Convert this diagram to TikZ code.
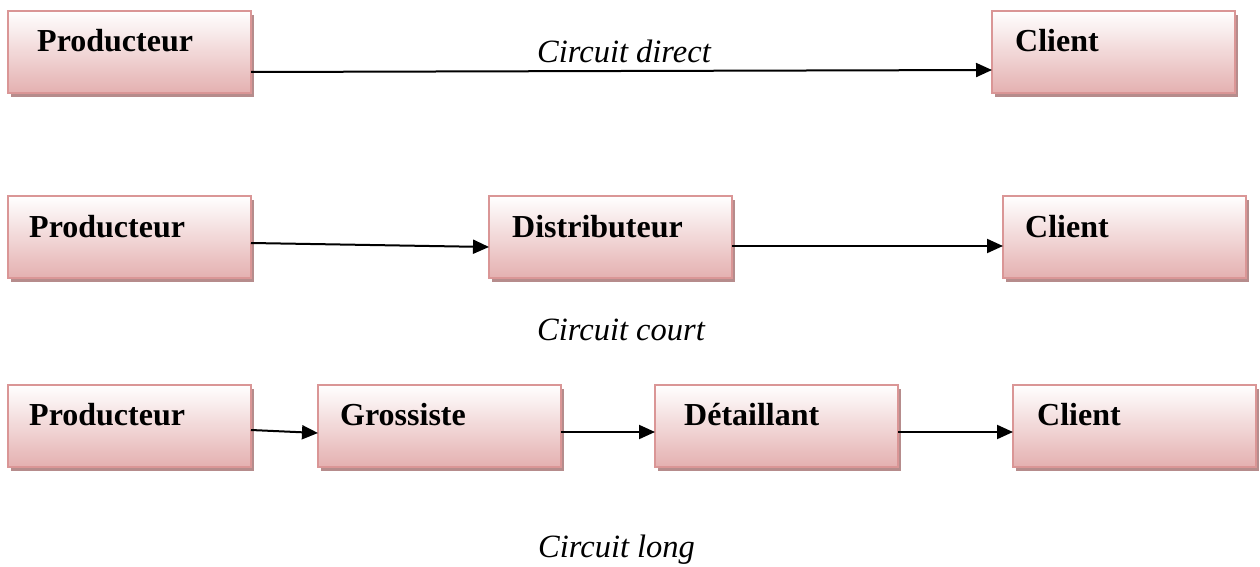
\documentclass[tikz,border=0pt]{standalone}
\usepackage{fontspec}
\setmainfont{Liberation Serif}
\usetikzlibrary{arrows.meta,shadows}

\definecolor{boxtop}{RGB}{255,255,255}
\definecolor{boxbottom}{RGB}{228,176,176}
\definecolor{boxline}{RGB}{218,150,150}
\definecolor{boxshadow}{RGB}{182,140,140}

\tikzset{
  box/.style={rectangle, draw=boxline, line width=2.2pt,
    top color=boxtop, bottom color=boxbottom,
    minimum width=243pt, minimum height=82pt, anchor=north west,
    inner sep=0pt, outer sep=0pt,
    drop shadow={shadow xshift=3pt, shadow yshift=-4pt, fill=boxshadow, opacity=1}},
  actor/.style={anchor=base west, inner sep=0pt, font=\fontsize{32}{32}\selectfont\bfseries},
  circuit/.style={anchor=base west, inner sep=0pt, font=\fontsize{32.5}{32.5}\selectfont\itshape},
  flow/.style={line width=2pt, -{Triangle[length=16pt,width=14pt]}}
}

\begin{document}
\begin{tikzpicture}[x=1pt,y=-1pt]
\useasboundingbox (0,0) rectangle (1260,567);

% Circuit direct
\node[box] (p1) at (8,11) {};
\node[box] (c1) at (992,11) {};
\node[actor] (p1t) at (37,52) {Producteur};
\node[actor] (c1t) at (1015,52) {Client};
\draw[flow] ([yshift=-20pt]p1.east) -- ([yshift=-18pt]c1.west);
\node[circuit] (k1) at (537,63) {Circuit direct};

% Circuit court
\node[box] (p2) at (8,196) {};
\node[box] (d2) at (489,196) {};
\node[box] (c2) at (1003,196) {};
\node[actor] (p2t) at (29,237) {Producteur};
\node[actor] (d2t) at (512,237) {Distributeur};
\node[actor] (c2t) at (1025,237) {Client};
\draw[flow] ([yshift=-6pt]p2.east) -- ([yshift=-10pt]d2.west);
\draw[flow] ([yshift=-9pt]d2.east) -- ([yshift=-9pt]c2.west);
\node[circuit] (k2) at (537,340) {Circuit court};

% Circuit long
\node[box] (p3) at (8,385) {};
\node[box] (g3) at (318,385) {};
\node[box] (t3) at (655,385) {};
\node[box] (c3) at (1013,385) {};
\node[actor] (p3t) at (29,425) {Producteur};
\node[actor] (g3t) at (340,425) {Grossiste};
\node[actor] (t3t) at (684,425) {Détaillant};
\node[actor] (c3t) at (1037,425) {Client};
\draw[flow] ([yshift=-4pt]p3.east) -- ([yshift=-7pt]g3.west);
\draw[flow] ([yshift=-6pt]g3.east) -- ([yshift=-6pt]t3.west);
\draw[flow] ([yshift=-6pt]t3.east) -- ([yshift=-6pt]c3.west);
\node[circuit] (k3) at (538,557) {Circuit long};
\end{tikzpicture}
\end{document}
